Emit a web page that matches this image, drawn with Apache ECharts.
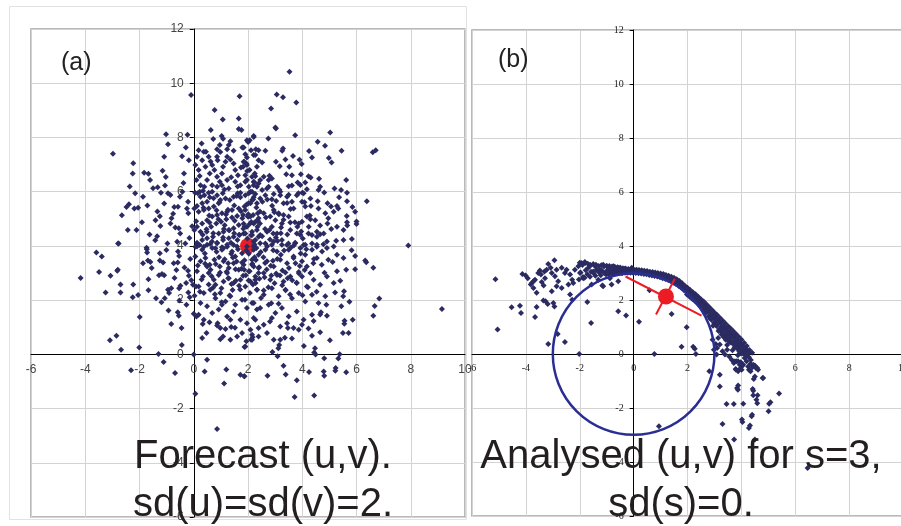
<!DOCTYPE html>
<html>
<head>
<meta charset="utf-8">
<script src="https://cdn.jsdelivr.net/npm/echarts@6/dist/echarts.min.js"></script>
<style>
  html, body { margin: 0; padding: 0; background: #fff; }
  #chart { width: 901px; height: 526px; }
</style>
</head>
<body>
<div id="chart"></div>
<script>
// (a) forecast ensemble
var forecastLeft = [
  [-2.98,7.40],[-0.10,9.57],[-1.02,8.12],[-0.23,8.10],[-0.95,7.75],[-0.29,7.63],[-2.23,7.05],[-2.25,6.67],[-1.09,7.29],[-0.43,7.31],
  [-0.18,7.16],[-1.83,6.70],[-1.67,6.66],[-2.36,6.19],[-1.61,6.43],[-1.15,6.77],[-1.03,6.54],[-1.50,6.13],[-1.33,6.16],[-1.06,6.23],
  [-2.16,5.94],[-1.87,5.81],[-0.95,5.94],[-0.86,5.88],[-0.36,6.67],[-0.42,6.00],[-2.39,5.54],[-2.48,5.43],[-2.19,5.38],[-2.05,5.41],
  [-1.71,5.49],[-1.09,5.56],[-0.72,5.43],[-0.58,5.44],[-2.65,5.13],[-1.34,5.27],[-0.76,5.19],[-0.25,5.38],[-0.20,5.20],[-2.43,4.59],
  [-2.11,4.59],[-1.41,4.95],[-1.25,5.09],[-1.23,4.73],[-0.86,4.83],[-0.68,4.68],[-0.55,4.65],[-0.50,4.46],[-2.77,4.09],[-1.74,3.93],
  [-1.35,4.36],[-0.97,4.09],[-0.61,4.15],[-0.31,4.09],[-0.16,4.29],
  [-4.17,2.82],[-3.59,3.76],[-3.39,3.61],[-3.49,3.04],[-2.79,4.09],[-3.07,2.90],[-2.82,3.08],[-2.80,3.12],[-2.70,2.58],[-3.25,2.28],
  [-2.70,2.28],[-2.23,2.58],[-2.25,2.11],[-2.05,2.19],[-1.99,1.38],[-1.67,2.77],[-1.67,2.36],[-1.87,3.36],[-1.69,3.46],[-1.60,3.41],
  [-1.73,3.88],[-1.72,3.76],[-1.25,3.73],[-1.25,3.46],[-1.13,3.39],[-1.28,2.92],[-1.17,2.96],[-1.09,2.92],[-1.39,2.07],[-1.19,1.92],
  [-1.07,2.07],[-0.93,1.62],[-0.95,2.38],[-0.91,2.26],[-0.83,2.44],[-0.74,3.36],[-0.59,3.39],[-1.01,3.85],[-0.58,3.79],[-0.54,3.63],
  [-0.54,2.44],[-0.49,2.53],[-0.53,1.99],[-0.59,1.55],[-0.55,1.42],[-0.34,3.20],[-0.21,3.08],[-0.18,2.90],[-0.09,2.73],[-0.03,2.57],
  [0.08,2.50],[-0.20,2.28],[-0.15,2.11],[0.00,1.50],[0.10,1.40],[-0.45,0.97],[-0.44,0.34],[-3.09,0.52],[-2.85,0.69],[-2.68,0.17],
  [-2.01,0.25],[-1.30,0.01],[-1.11,-0.28],[-2.31,-0.59],[-0.69,-0.69],[0.00,-0.01],[0.06,-1.45],[0.49,-0.20],[0.40,-0.63],[1.12,-1.08],
  [1.20,-0.56],[0.86,-2.75],[1.72,-0.75],[1.87,-0.81],[0.31,0.60],[0.47,0.79],[0.98,0.56],[1.08,0.66],[1.35,0.54],[1.60,0.66],
  [1.87,0.27],[1.94,0.48],[2.11,0.54],[2.17,0.63],[0.86,1.06],[0.98,0.97],[1.17,0.93],[0.58,1.18],[0.88,1.15],[1.38,1.01]
];
var forecastTop = [
  [1.69,9.52],[0.77,9.01],[1.07,8.66],[1.66,8.70],[1.66,8.31],[1.76,8.27],[0.63,8.27],[1.03,8.05],[1.08,7.95],[0.72,7.94],
  [1.35,7.86],[0.29,7.78],[2.00,7.84],[2.06,7.90],[2.21,8.02],[1.79,7.63],[1.84,7.63],[0.86,7.56],[0.45,7.47],[0.98,7.46],
  [3.53,10.42],[3.06,9.58],[3.29,9.48],[3.78,9.29],[2.85,9.07],[3.01,8.37],[3.03,8.33],[3.74,8.08],[5.03,8.18],[2.21,8.05],
  [2.75,7.96],[4.57,7.84],[4.84,7.69],[4.25,7.50],[4.36,7.26],[5.45,7.51],[6.60,7.45],[6.71,7.53],[3.29,7.59],[3.26,7.51],
  [3.66,7.32],[3.38,7.19],[3.03,7.10],[3.17,6.94],[3.90,7.18],[3.98,7.02],[4.98,7.24],[5.08,7.08],[1.96,7.90],[2.01,7.84],
  [2.29,7.56],[2.39,7.53],[2.21,7.35],[2.64,7.51],[1.86,7.10],[1.82,6.92],[1.94,7.04],[3.41,6.64],[3.62,6.61],[3.95,6.64],
  [4.23,6.57],[4.31,6.52],[5.62,6.43],[2.79,6.59],[2.88,6.49],[2.58,6.55],[2.45,6.43],[2.27,6.57],[2.21,6.37],[1.96,6.43],
  [1.90,6.61],[3.83,6.34],[4.11,6.34],[4.66,6.18],[4.60,6.06],[5.19,6.12],[5.43,6.06],[5.65,5.96],[4.81,5.97],[6.38,5.65],
  [5.36,5.79],[5.28,5.47],[5.33,5.38],[5.65,5.65],[5.85,5.43],[4.93,5.57],[5.06,5.45],[4.57,5.65],[4.32,5.47],[3.93,6.25],
  [4.17,6.09],[4.00,5.96],[3.50,6.20],[3.07,6.18],[2.95,5.91],[3.19,5.87],[3.50,5.89],[5.95,5.26],[5.64,5.10],[6.00,4.90],
  [6.00,4.81],[5.66,4.75],[7.91,4.01]
];
var forecastRight = [
  [6.32,3.46],[6.36,3.40],[6.62,3.19],[5.95,3.14],[5.82,3.84],[5.95,3.63],[5.40,2.71],[6.84,2.06],[6.67,1.78],[6.62,1.42],
  [9.15,1.67],[5.54,2.33],[5.51,2.14],[5.74,1.94],[5.44,1.77],[5.86,1.28],[5.56,1.24],[5.55,1.13],[5.50,0.79],[5.71,0.79],
  [4.89,1.83],[4.91,1.42],[4.66,1.47],[4.69,1.55],[4.42,1.23],[4.36,0.69],[4.66,0.81],[4.23,0.95],[3.99,1.09],[3.87,0.91],
  [3.68,0.97],[3.47,0.97],[3.62,0.58],[3.19,0.54],[3.15,0.34],[3.12,0.22],[3.09,-0.07],[2.90,0.09],[4.47,0.22],[4.44,0.07],
  [4.49,-0.01],[4.81,-0.14],[5.33,-0.15],[5.38,0.00],[3.31,-0.42],[3.39,-0.74],[2.72,-0.79],[4.25,-0.65],[4.79,-0.63],[4.81,-0.79],
  [5.23,-0.50],[5.22,-0.61],[5.62,-0.66],[3.80,-0.96],[3.72,-1.57],[4.44,-1.52],[1.86,-0.81]
];
var forecastCore = [
  [2.70,6.12],[2.52,6.06],[2.33,6.18],[2.64,5.87],[2.45,5.75],[2.27,5.91],[2.15,5.69],[3.62,5.63],[3.31,5.57],[3.68,5.38],
  [3.99,5.63],[4.30,5.75],[5.65,4.87],[5.28,4.71],[5.52,4.59],[4.96,5.02],[4.93,4.83],[4.66,4.75],[4.54,4.52],[4.66,4.43],
  [5.52,4.22],[5.83,4.25],[5.25,4.19],[4.91,4.16],[4.17,5.08],[4.30,4.98],[3.99,4.89],[3.87,4.83],[3.56,4.86],[3.25,4.83],
  [3.56,4.59],[3.80,4.46],[3.93,4.40],[4.23,4.46],[4.36,4.40],[4.54,4.34],[4.79,4.46],[2.95,5.32],[3.13,5.20],[2.82,5.08],
  [2.58,5.20],[2.39,5.02],[2.21,4.83],[2.09,5.08],[3.01,4.95],[3.31,5.14],[3.50,5.08],[2.88,4.71],[2.70,4.52],[2.45,4.40],
  [3.07,4.46],[3.25,4.22],[2.95,4.16],[2.64,4.09],[2.27,4.22],[3.44,4.03],[3.74,4.12],[4.05,4.03],[4.36,4.09],[4.54,3.97],
  [4.05,5.94],[4.60,5.38],[4.85,5.20],[5.16,5.26],[4.48,4.95],[3.19,6.00],[2.88,5.72],[3.44,5.81],[3.80,5.87],[4.11,5.45],
  [2.76,6.43],[2.09,6.00],[2.02,5.57],[1.90,5.32],[1.96,4.71],[1.84,4.46],[2.15,4.40],[2.02,5.08],
  [0.05,5.96],[0.15,5.94],[0.22,6.00],[0.34,6.03],[0.25,5.81],[0.39,5.87],[0.55,5.96],[0.68,6.00],[0.59,5.79],[0.49,5.63],
  [0.31,5.57],[0.12,5.47],[0.02,5.38],[0.18,5.26],[0.37,5.32],[0.55,5.38],[0.74,5.45],[0.92,5.57],[0.98,5.69],[0.86,5.87],
  [1.07,5.94],[1.13,6.08],[1.29,6.12],[1.17,5.75],[1.33,5.69],[1.47,5.81],[1.62,5.94],[1.72,5.79],[1.90,5.87],[2.03,5.94],
  [2.15,6.00],[2.21,5.79],[2.33,5.57],[2.09,5.57],[1.87,5.45],[1.66,5.38],[1.41,5.32],[1.23,5.26],[1.04,5.20],[0.86,5.14],
  [0.68,5.08],[0.49,4.95],[0.31,4.83],[0.12,4.71],[0.02,4.59],[0.25,4.52],[0.47,4.61],[0.64,4.71],[0.83,4.83],[1.01,4.89],
  [1.20,4.98],[1.41,5.05],[1.60,5.10],[1.82,5.14],[1.99,5.08],[2.19,5.14],[2.36,5.20],[2.27,4.89],[2.06,4.81],[1.87,4.71],
  [1.66,4.77],[1.47,4.65],[1.29,4.59],[1.10,4.52],[0.92,4.46],[0.71,4.34],[0.49,4.28],[0.31,4.22],[0.12,4.12],[0.06,3.97],
  [0.37,3.97],[0.61,4.07],[0.86,4.12],[1.08,4.22],[1.29,4.28],[1.47,4.34],[1.69,4.40],[1.90,4.46],[2.15,4.52],[2.33,4.59],
  [2.39,4.34],[2.21,4.16],[1.47,4.03],[1.23,3.97],[1.04,3.95],[0.80,3.91],
  [0.06,6.98],[0.18,6.80],[0.31,7.16],[0.43,6.92],[0.59,6.67],[0.68,6.98],[0.76,6.80],[0.86,6.55],[0.96,6.37],[1.04,6.67],
  [1.08,6.92],[1.17,7.10],[1.23,7.29],[1.35,7.19],[1.47,7.04],[1.53,6.80],[1.63,6.61],[1.74,6.89],[1.84,7.10],[1.96,6.98],
  [2.06,6.80],[2.15,6.55],[2.25,6.67],[2.33,6.92],[2.39,7.16],[2.27,7.35],[2.11,7.53],[0.49,6.43],[0.68,6.24],[0.86,6.18],
  [1.04,6.24],[1.23,6.43],[1.38,6.53],[1.53,6.37],[1.72,6.24],[1.90,6.37],[2.03,6.18],[2.21,6.24],[2.39,6.30],[0.10,6.43],
  [0.25,6.24],[0.39,6.18],[0.55,7.29],[0.37,7.47],[0.86,7.29],[0.88,7.16],[1.90,7.38],[1.96,7.26],[1.47,7.51],[1.23,7.56],
  [1.29,7.72],[0.96,7.72],[0.18,7.53],[0.12,7.29],
  [0.12,3.98],[0.31,3.86],[0.49,4.04],[0.68,3.92],[0.86,4.10],[1.04,3.86],[1.23,4.04],[1.41,3.79],[1.60,3.98],[1.78,3.73],
  [2.21,3.86],[2.39,3.67],[0.06,3.61],[0.25,3.43],[0.43,3.55],[0.59,3.30],[0.76,3.49],[0.96,3.24],[1.10,3.43],[1.29,3.18],
  [1.47,3.36],[1.66,3.12],[1.84,3.30],[2.03,3.06],[2.21,3.24],[2.39,3.00],[0.12,3.06],[0.34,2.87],[0.55,3.00],[0.74,2.75],
  [0.92,2.93],[1.10,2.69],[1.29,2.81],[1.47,2.63],[1.72,2.75],[1.90,2.50],[2.09,2.69],[2.33,2.38],[0.18,2.50],[0.37,2.26],
  [0.61,2.38],[0.80,2.07],[0.98,2.26],[1.17,1.95],[1.35,2.14],[1.53,1.83],[1.78,2.01],[1.96,1.71],[2.15,1.89],[2.33,1.65],
  [0.25,1.89],[0.49,1.77],[0.68,1.52],[0.92,1.65],[1.23,1.40],[1.47,1.58],[1.72,1.28],[1.96,1.15],[2.21,1.34],[2.39,0.97],
  [0.37,1.28],[0.18,1.46],[1.78,0.79],[2.15,0.72],[1.35,1.28],[1.04,1.83],[0.80,2.57],[1.23,3.00],[1.82,2.90],[2.15,3.49],
  [1.96,3.98],[0.49,3.24],[1.53,3.61],[2.27,2.75],
  [2.21,3.98],[2.45,4.10],[2.64,3.86],[2.88,4.04],[3.07,3.79],[3.25,4.04],[3.50,3.86],[3.74,4.10],[3.93,3.92],[4.11,3.67],
  [4.36,3.86],[4.54,4.04],[4.73,3.79],[4.91,3.92],[5.16,3.98],[5.28,3.67],[5.52,3.55],[4.96,3.49],[4.72,3.30],[4.41,3.36],
  [4.17,3.24],[3.99,3.43],[3.68,3.55],[3.44,3.36],[3.19,3.49],[2.95,3.24],[2.70,3.43],[2.39,3.18],[2.15,3.30],[2.27,2.87],
  [2.58,3.00],[2.82,2.75],[3.07,2.93],[3.31,2.69],[3.56,2.87],[3.80,2.63],[3.99,2.87],[4.17,2.50],[4.42,2.75],[4.66,2.57],
  [4.91,2.87],[5.16,2.63],[5.28,3.06],[2.33,2.38],[2.58,2.20],[2.88,2.44],[3.13,2.14],[3.38,2.38],[3.62,2.07],[3.87,2.26],
  [4.11,1.95],[4.36,2.20],[4.60,1.89],[4.85,2.14],[2.21,1.89],[2.45,1.71],[2.76,1.83],[3.01,1.52],[3.25,1.71],[3.50,1.40],
  [3.80,1.58],[4.05,1.28],[4.36,1.46],[2.27,1.28],[2.58,1.09],[2.88,1.34],[3.19,1.03],[3.44,1.15],[2.09,0.91],[2.39,0.66],
  [2.70,0.79],[2.95,0.54],[2.15,0.54],[1.90,0.29],[4.30,3.00],[4.54,3.55],[4.11,4.04]
];
// extra points in the saturated middle of the cloud, estimated
var forecastFill = [
  [0.23,2.31],[0.41,3.72],[0.57,5.12],[0.66,2.88],[0.72,4.47],[0.81,3.33],[0.95,5.61],[1.02,2.44],[1.09,3.91],[1.14,4.76],
  [1.21,3.05],[1.26,5.33],[1.32,2.17],[1.37,4.12],[1.44,3.57],[1.51,4.93],[1.55,2.71],[1.58,5.84],[1.63,3.88],[1.67,4.41],
  [1.71,2.39],[1.76,3.16],[1.79,5.02],[1.83,4.63],[1.87,3.47],[1.92,2.92],[1.95,5.53],[1.98,4.27],[2.03,3.71],[2.07,2.26],
  [2.12,4.88],[2.16,3.34],[2.19,5.71],[2.24,4.05],[2.28,2.63],[2.31,3.92],[2.35,4.71],[2.41,3.21],[2.44,5.27],[2.48,2.08],
  [2.52,4.36],[2.57,3.58],[2.61,2.84],[2.66,5.05],[2.71,3.99],[2.75,2.47],[2.79,4.59],[2.84,3.27],[2.89,5.48],[2.93,3.84],
  [2.98,2.62],[3.03,4.31],[3.08,3.52],[3.14,5.17],[3.18,2.91],[3.22,4.68],[3.27,3.09],[3.33,3.83],[3.39,2.36],[3.45,4.42],
  [3.51,3.18],[3.57,5.36],[3.63,2.73],[3.69,4.01],[3.75,3.36],[3.82,4.71],[3.88,2.98],[3.94,3.72],[4.02,4.27],[4.09,3.11],
  [4.28,5.12],[4.21,2.47],[4.15,3.88],[4.08,5.61],[4.01,2.18],[3.96,4.53],[3.91,3.26],[3.86,5.94],[3.79,2.64],[3.73,4.87],
  [3.68,3.61],[3.62,6.23],[3.55,2.21],[3.49,4.09],[3.44,5.58],[3.38,3.02],[3.31,4.96],[3.26,2.55],[3.21,3.67],[3.16,6.07],
  [3.09,4.18],[3.04,2.98],[2.97,5.24],[2.92,3.45],[2.86,1.88],[2.81,4.24],[2.76,6.18],[2.69,3.13],[2.63,4.62],[2.58,2.35],
  [2.53,5.63],[2.47,3.77],[2.42,2.79],[2.36,4.94],[2.29,3.48],[2.23,6.35],[2.18,2.58],[2.11,4.39],[2.06,3.06],[2.01,5.17],
  [1.94,3.83],[1.89,2.01],[1.84,4.82],[1.78,3.39],[1.72,5.96],[1.67,2.53],[1.61,4.22],[1.54,3.14],[1.49,5.49],[1.43,2.37],
  [1.38,3.71],[1.31,4.58],[1.27,2.81],[1.19,5.16],[1.14,3.51],[1.08,4.31],[1.03,1.92],[0.97,3.02],[0.91,4.98],[0.84,3.78],
  [0.78,2.22],[0.73,5.76],[0.67,4.16],[0.62,3.12],[0.55,2.58],[0.48,4.52],[0.42,3.34],[0.36,5.41],[0.29,2.76],[0.22,4.03],
  [0.15,3.28],[0.09,4.91],[0.03,2.16],[-0.06,4.72],[-0.13,3.52],[-0.21,5.63],[-0.28,2.63],
  [-0.82,5.02],[-0.64,3.11],[-1.42,4.21],[-1.91,4.87],[-0.38,6.32],[-0.71,2.82],[-1.55,3.18],[-0.27,1.83],[0.33,1.12],[1.52,0.98],
  [2.81,1.21],[3.36,0.61],[4.53,2.31],[4.82,3.01],[5.12,3.41],[5.21,2.28],[4.78,4.06],[5.07,4.62],[4.62,6.48],[3.52,6.92],
  [2.52,7.08],[0.62,7.11],[0.22,6.58],[-0.51,5.81],[-1.21,5.96],[-1.63,4.42],[-0.83,1.12],[4.06,0.31],[5.02,0.52],[5.62,3.12],
  [1.11,4.62],[1.58,3.42],[2.44,4.83],[2.86,2.91],[3.21,4.47],[1.74,5.28],[0.93,3.58],[2.63,3.37],[3.58,3.94],[1.39,2.59],
  [0.58,4.86],[2.02,2.72],[3.04,5.66],[1.62,6.19],[2.71,5.71],[4.24,4.71],[0.33,4.41],[3.87,3.04],[2.24,3.58],[1.27,3.36],
  [0.84,5.31],[2.93,4.46],[1.49,4.47],[3.46,2.81],[2.31,5.42],[1.86,3.12],[0.71,2.46],[4.43,3.52],[3.13,1.87],[1.97,6.76]
];

// (b) analysed ensemble
var analysedSpread = [
  [-5.13,2.77],[-5.05,0.91],[-4.53,1.73],[-4.22,1.79],[-4.18,1.52],[-4.13,2.96],[-4.01,2.91],[-3.93,2.81],[-3.66,1.37],[-3.60,1.74],
  [-3.60,2.27],[-3.82,2.57],[-3.78,2.63],[-3.72,2.69],[-3.66,2.75],[-3.35,1.98],[-3.27,1.95],[-3.19,1.85],[-2.98,1.89],[-2.94,1.76],
  [-3.17,0.37],[-2.82,0.74],[-2.55,0.44],[-2.36,2.20],[-2.28,2.01],[-2.02,0.00],[-1.72,1.93],[-1.58,1.15],[-1.16,2.54],[-0.57,1.58],
  [-0.28,1.43],[0.20,1.19],[0.59,2.36],[0.77,0.00],[1.41,1.48],[1.97,0.99],[1.78,0.27],[2.21,0.27],[2.27,0.19],[2.31,0.00],
  [0.94,-2.68],[6.46,-4.22],[2.81,-0.64],[3.20,-0.77],[3.20,-1.20],[3.45,-1.85],[3.72,-1.85],[4.07,-1.84],[3.30,-2.59],[3.73,-3.17],
  [4.50,-3.17],[4.02,-2.43],[4.04,-2.52],[4.28,-2.74],[4.32,-2.65],[4.38,-2.31],[4.40,-2.25],[4.59,-1.82],[4.56,-1.69],[4.44,-1.53],
  [4.60,-1.53],[4.42,-1.30],[4.44,-1.36],[3.88,-1.17],[3.84,-1.26],[3.87,-1.32],[3.79,-0.56],[3.94,-0.56],[4.01,-0.46],[3.76,-0.27],
  [3.88,-0.27],[3.98,-0.31],[4.34,-0.36],[4.42,-0.48],[4.50,-0.43],[4.59,-0.52],[4.28,-0.58],[4.34,-0.64],[4.46,-0.93],[4.79,-0.89],
  [5.40,-1.46],[5.03,-1.84],[5.08,-1.79],[5.01,-2.12],
  [-3.54,3.00],[-3.48,3.09],[-3.44,2.94],[-3.31,3.06],[-3.23,3.12],[-3.29,2.81],[-3.41,2.67],[-3.34,2.54],[-3.17,3.33],[-2.94,3.47],
  [-3.08,3.19],[-3.04,3.00],[-2.86,3.12],[-2.92,2.88],[-2.80,2.69],[-2.67,3.19],[-2.55,3.00],[-2.49,3.12],[-2.36,2.94],[-2.28,2.75],
  [-2.24,2.63],[-2.42,2.57],[-2.18,3.12],[-2.05,3.25],[-1.99,3.00],[-1.93,3.37],[-1.81,3.41],[-1.87,2.81],[-1.68,3.19],[-1.62,3.31],
  [-1.50,3.06],[-1.43,3.25],[-1.31,2.75],[-1.25,3.12],[-1.13,3.31],[-1.06,3.00],[-0.94,3.19],[-0.88,2.81],[-0.75,3.25],[-0.69,3.06],
  [-0.57,3.19],[-0.45,3.00],[-0.32,3.16],[-0.20,3.09],[-0.07,3.19],[-0.82,2.57],[-0.57,2.69],[-1.56,2.57],[-1.13,2.51],[-2.67,2.44],
  [-3.04,2.32],[-2.86,2.51],[-3.72,2.44]
];
var analysedArc = [
  [-2.00,3.38],[-1.97,3.02],[-2.03,2.76],[-1.90,3.30],[-1.88,2.85],[-1.80,3.37],[-1.78,3.10],[-1.82,2.82],[-1.70,3.34],[-1.72,2.95],
  [-1.60,3.28],[-1.58,3.05],[-1.62,2.86],[-1.50,3.33],[-1.48,2.99],[-1.40,3.31],[-1.37,3.12],[-1.42,2.90],[-1.30,3.26],[-1.28,3.02],
  [-1.20,3.29],[-1.18,3.09],[-1.22,2.92],[-1.10,3.24],[-1.08,3.00],[-1.00,3.27],[-0.97,3.11],[-1.02,2.94],[-0.90,3.26],[-0.87,3.10],
  [-0.92,2.96],[-0.80,3.24],[-0.77,3.10],[-0.82,2.97],[-0.70,3.23],[-0.67,3.09],[-0.72,2.98],[-0.60,3.21],[-0.57,3.10],[-0.62,2.99],
  [-0.50,3.20],[-0.47,3.10],[-0.52,3.00],[-0.40,3.18],[-0.37,3.09],[-0.42,3.00],[-0.30,3.17],[-0.27,3.08],[-0.32,3.01],[-0.20,3.15],
  [-0.17,3.08],[-0.22,3.01],[-0.10,3.14],[-0.07,3.07],[-0.12,3.01],[0.00,3.13],[0.03,3.07],[-0.02,3.01],[0.10,3.12],[0.13,3.06],
  [0.08,3.00],[0.20,3.11],[0.23,3.05],[0.18,2.99],[0.30,3.10],[0.33,3.04],[0.28,2.98],[0.40,3.08],[0.43,3.02],[0.38,2.96],
  [0.50,3.07],[0.53,3.01],[0.48,2.95],[0.60,3.05],[0.63,2.99],[0.58,2.93],[0.70,3.04],[0.73,2.97],[0.68,2.91],[0.80,3.02],
  [0.83,2.95],[0.78,2.89],[0.90,3.00],[0.93,2.93],[0.88,2.87],[1.00,2.98],[1.03,2.91],[0.98,2.84],[1.10,2.96],[1.13,2.88],
  [1.08,2.81],[1.20,2.93],[1.23,2.85],[1.18,2.78],[1.30,2.90],[1.33,2.82],[1.28,2.74],[1.40,2.86],[1.43,2.78],[1.38,2.70],
  [1.50,2.82],[1.53,2.73],[1.48,2.65],[1.60,2.77],[1.63,2.68],[1.58,2.59],[1.70,2.70],[1.73,2.61],[1.68,2.52],[1.80,2.62],
  [1.83,2.53],[1.78,2.44],[1.90,2.53],[1.93,2.44],[1.88,2.35],[2.00,2.45],[2.03,2.33],[1.98,2.20],[2.10,2.37],[2.13,2.25],
  [2.08,2.12],[2.20,2.29],[2.23,2.17],[2.18,2.04],[2.30,2.21],[2.33,2.08],[2.28,1.95],[2.40,2.12],[2.43,1.99],[2.38,1.86],
  [2.50,2.03],[2.53,1.90],[2.48,1.76],[2.60,1.94],[2.63,1.80],[2.58,1.65],[2.70,1.84],[2.73,1.69],[2.68,1.53],[2.80,1.74],
  [2.83,1.57],[2.78,1.40],[2.90,1.64],[2.93,1.46],[2.88,1.28],[3.00,1.54],[3.03,1.35],[2.98,1.16],[3.10,1.44],[3.13,1.24],
  [3.08,1.04],[3.20,1.34],[3.23,1.13],[3.18,0.92],[3.30,1.24],[3.33,1.02],[3.28,0.80],[3.40,1.14],[3.43,0.92],[3.38,0.70],
  [3.50,1.04],[3.53,0.82],[3.48,0.60],[3.60,0.94],[3.63,0.72],[3.58,0.50],[3.70,0.84],[3.73,0.62],[3.68,0.40],[3.80,0.74],
  [3.83,0.52],[3.78,0.30],[3.90,0.64],[3.93,0.42],[3.88,0.20],[4.00,0.54],[4.03,0.32],[3.98,0.10],[4.10,0.42],[4.13,0.22],
  [4.08,0.02],[4.20,0.30],[4.23,0.12],[4.18,-0.06],[4.30,0.15],[4.28,-0.12]
];
var analysedBand = [
  [-0.95,3.04],[-0.62,3.14],[-0.35,3.12],[-0.05,3.04],[0.15,3.09],[0.36,3.06],[0.55,2.98],[0.74,2.99],[0.95,2.90],[1.15,2.91],
  [1.35,2.80],[1.46,2.75],[1.56,2.70],[1.66,2.63],[1.75,2.57],[1.86,2.47],[1.95,2.39],[2.06,2.28],[2.15,2.22],[2.26,2.12],
  [2.35,2.03],[2.45,1.93],[2.55,1.83],[2.66,1.72],[2.76,1.58],[2.86,1.48],[2.95,1.37],[3.06,1.25],[3.15,1.15],[3.26,1.02],
  [3.35,0.93],[3.45,0.82],[3.56,0.71],[3.65,0.62],[3.76,0.51],[3.85,0.41],[3.96,0.32],[4.05,0.20],[4.16,0.12],[4.25,0.03],
  [2.64,1.58],[2.85,1.31],[3.04,1.08],[3.24,0.86],[3.44,0.63],[3.62,0.42],[3.82,0.22],[4.02,0.02],[3.35,0.62],[3.55,0.45],
  [3.75,0.25],[3.95,0.02],[3.15,0.85],[2.95,1.05],[3.47,0.33],[3.67,0.14],[3.87,-0.05],[4.12,-0.15],[4.35,-0.22],[4.40,0.05],
  [1.76,2.49],[2.24,2.09],[2.71,1.61],[3.11,1.16],[3.52,0.71],[3.91,0.31],[1.12,2.86],[0.66,2.96],[0.21,3.03],[-0.27,3.05]
];
var analysedTail = [
  [3.05,0.37],[3.10,0.22],[3.20,0.35],[3.30,0.10],[3.39,-0.02],[3.47,0.16],[3.55,-0.09],[3.64,-0.21],[3.72,-0.33],[3.82,-0.27],
  [3.94,-0.40],[3.80,-0.58],[3.88,-0.64],[4.01,-0.58],[4.07,-0.40],[4.19,-0.27],[4.25,-0.46],[4.32,-0.58],[4.44,-0.40],[4.54,-0.52],
  [4.62,-0.58],[4.50,-0.83],[4.81,-0.89],[3.14,0.59],[3.26,0.72],[3.42,0.53],[3.57,0.65],[3.70,0.44],[3.82,0.28],[3.92,0.10],
  [4.07,0.04],[4.01,0.22],[4.19,-0.02],[2.93,0.53],[2.98,0.16],[3.08,-0.02]
];

// markers
var forecastMean = [[2, 4]];
var analysedMean = [[1.2, 2.13]];
var obsCircleCentre = [[0, 0]];
var obsRadius = 3;
var errLong = [[-0.3, 2.87], [2.52, 1.42]];
var errShort = [[1.53, 2.79], [0.83, 1.46]];
var xTicks = { min: -6, max: 10, interval: 2 };
var yTicks = { min: -6, max: 12, interval: 2 };

var NAVY = '#2b2b62';
var RED = '#ec1c24';

// both axes are moved onto the zero of the other with offsets once the grid is laid out
// (onZero keeps the labels at the grid edge, which is not what this chart does)
function axisPair(grid, serif) {
  var lab = serif
    ? { fontFamily: '"Liberation Serif", serif', fontSize: 10, color: '#222' }
    : { fontFamily: '"Liberation Sans", Arial, sans-serif', fontSize: 12, color: '#444' };
  var common = {
    gridIndex: grid, type: 'value',
    axisLine: { onZero: false, lineStyle: { color: '#000', width: 1 } },
    splitLine: { show: true, lineStyle: { color: '#d3d3d3', width: 1 } }
  };
  var x = Object.assign({}, common, xTicks, {
    axisTick: { show: false },
    axisLabel: Object.assign({ margin: 9 }, lab)
  });
  var y = Object.assign({}, common, yTicks, {
    axisTick: { show: true, inside: false, length: 4, lineStyle: { color: '#000' } },
    axisLabel: Object.assign({ margin: 10 }, lab)
  });
  return [x, y];
}

var ax0 = axisPair(0, false);
var ax1 = axisPair(1, true);
var gridA = { left: 31, top: 29, width: 434, height: 488 };
var gridB = { left: 472, top: 30, width: 431, height: 486 };

var chart = echarts.init(document.getElementById('chart'), null, { renderer: 'canvas' });
chart.setOption({
  animation: false,
  backgroundColor: '#fff',
  grid: [gridA, gridB].map(function (g) {
    return Object.assign({ show: true, borderColor: '#a3a3a3', borderWidth: 1.5, backgroundColor: '#fff', containLabel: false, outerBoundsMode: 'none' }, g);
  }),
  xAxis: [ax0[0], ax1[0]],
  yAxis: [ax0[1], ax1[1]],
  series: [
    { type: 'scatter', xAxisIndex: 0, yAxisIndex: 0, data: forecastMean, symbol: 'circle', symbolSize: 16, itemStyle: { color: RED, opacity: 1 } },
    { type: 'scatter', xAxisIndex: 0, yAxisIndex: 0, symbol: 'diamond', symbolSize: 6, itemStyle: { color: NAVY, opacity: 1 },
      data: forecastLeft.concat(forecastTop, forecastRight, forecastCore, forecastFill) },
    { type: 'scatter', xAxisIndex: 1, yAxisIndex: 1, symbol: 'diamond', symbolSize: 6, itemStyle: { color: NAVY, opacity: 1 },
      data: analysedSpread.concat(analysedArc, analysedBand, analysedTail) },
    { id: 'obsCircle', type: 'scatter', xAxisIndex: 1, yAxisIndex: 1, data: obsCircleCentre, symbol: 'circle', symbolSize: 160,
      itemStyle: { color: 'rgba(0,0,0,0)', borderColor: '#2a2e92', borderWidth: 2.5, opacity: 1 }, silent: true },
    { type: 'line', xAxisIndex: 1, yAxisIndex: 1, data: errLong, showSymbol: false, lineStyle: { color: RED, width: 2 } },
    { type: 'line', xAxisIndex: 1, yAxisIndex: 1, data: errShort, showSymbol: false, lineStyle: { color: RED, width: 2 } },
    { type: 'scatter', xAxisIndex: 1, yAxisIndex: 1, data: analysedMean, symbol: 'circle', symbolSize: 16, itemStyle: { color: RED, opacity: 1 } }
  ],
  graphic: [
    { type: 'rect', shape: { x: 9.5, y: 6.5, width: 457, height: 513 }, style: { fill: 'none', stroke: '#e2e2e2', lineWidth: 1 }, z: -1 },
    { type: 'text', x: 61, y: 63, z: 100, style: { text: '(a)', font: '25px "Liberation Sans", Arial, sans-serif', fill: '#222', align: 'left', verticalAlign: 'middle', textAlign: 'left', textVerticalAlign: 'middle' } },
    { type: 'text', x: 498, y: 60, z: 100, style: { text: '(b)', font: '25px "Liberation Sans", Arial, sans-serif', fill: '#222', align: 'left', verticalAlign: 'middle', textAlign: 'left', textVerticalAlign: 'middle' } },
    { type: 'text', x: 263, y: 457, z: 100, style: { text: 'Forecast (u,v).', font: '40px "Liberation Sans", Arial, sans-serif', fill: '#231f20', align: 'center', verticalAlign: 'middle', textAlign: 'center', textVerticalAlign: 'middle' } },
    { type: 'text', x: 263, y: 505, z: 100, style: { text: 'sd(u)=sd(v)=2.', font: '40px "Liberation Sans", Arial, sans-serif', fill: '#231f20', align: 'center', verticalAlign: 'middle', textAlign: 'center', textVerticalAlign: 'middle' } },
    { type: 'text', x: 681, y: 457, z: 100, style: { text: 'Analysed (u,v) for s=3,', font: '40px "Liberation Sans", Arial, sans-serif', fill: '#231f20', align: 'center', verticalAlign: 'middle', textAlign: 'center', textVerticalAlign: 'middle' } },
    { type: 'text', x: 681, y: 505, z: 100, style: { text: 'sd(s)=0.', font: '40px "Liberation Sans", Arial, sans-serif', fill: '#231f20', align: 'center', verticalAlign: 'middle', textAlign: 'center', textVerticalAlign: 'middle' } }
  ]
});

// place each axis through the origin and size the observation circle (radius s) from the axis scale
var zeroA = chart.convertToPixel({ gridIndex: 0 }, [0, 0]);
var zeroB = chart.convertToPixel({ gridIndex: 1 }, [0, 0]);
var rimB = chart.convertToPixel({ gridIndex: 1 }, [obsRadius, 0]);
chart.setOption({
  xAxis: [
    { offset: zeroA[1] - (gridA.top + gridA.height) },
    { offset: zeroB[1] - (gridB.top + gridB.height) }
  ],
  yAxis: [
    { offset: gridA.left - zeroA[0] },
    { offset: gridB.left - zeroB[0] }
  ],
  series: [{ id: 'obsCircle', symbolSize: 2 * Math.abs(rimB[0] - zeroB[0]) }]
});
</script>
</body>
</html>
